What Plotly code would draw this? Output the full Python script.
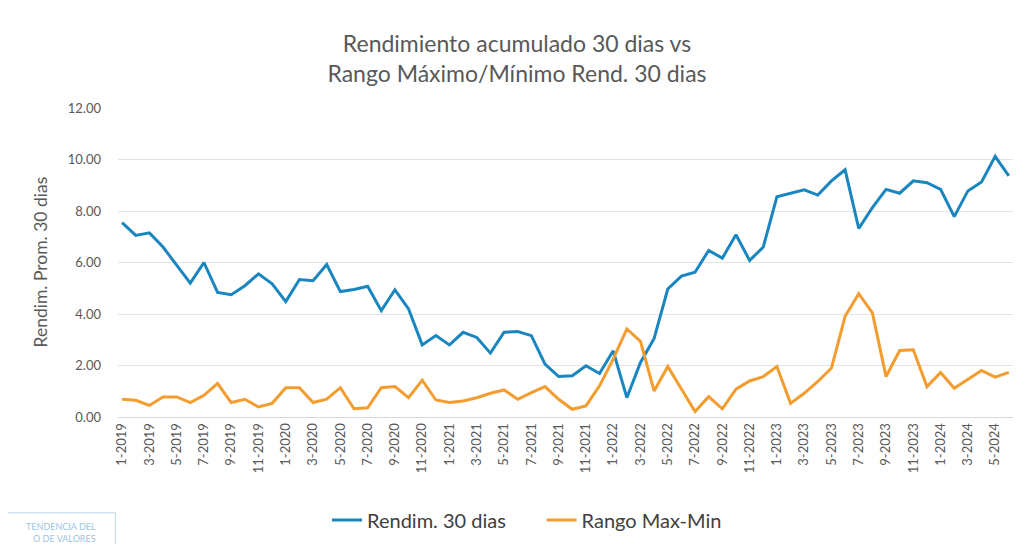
import plotly.graph_objects as go

# meses enero 2019 - junio 2024
years = [2019, 2020, 2021, 2022, 2023, 2024]
months = [f"{m}-{y}" for y in years for m in range(1, 13)][:66]

rendim_30 = [
    7.55, 7.05, 7.15, 6.60, 5.90, 5.20, 6.00, 4.84, 4.75, 5.10, 5.56, 5.17,
    4.48, 5.34, 5.29, 5.92, 4.87, 4.95, 5.08, 4.13, 4.94, 4.20, 2.80, 3.16,
    2.80, 3.29, 3.09, 2.48, 3.29, 3.32, 3.16, 2.05, 1.57, 1.60, 1.99, 1.69,
    2.57, 0.75, 2.12, 3.05, 4.97, 5.47, 5.62, 6.47, 6.17, 7.08, 6.08, 6.60,
    8.55, 8.70, 8.82, 8.62, 9.17, 9.60, 7.32, 8.13, 8.84, 8.69, 9.17, 9.10,
    8.84, 7.78, 8.78, 9.13, 10.12, 9.36,
]
rango_max_min = [
    0.69, 0.65, 0.45, 0.78, 0.78, 0.56, 0.84, 1.30, 0.56, 0.69, 0.39, 0.53,
    1.14, 1.14, 0.56, 0.69, 1.14, 0.32, 0.36, 1.14, 1.18, 0.75, 1.43, 0.66,
    0.56, 0.62, 0.75, 0.92, 1.05, 0.69, 0.95, 1.18, 0.69, 0.30, 0.43, 1.21,
    2.25, 3.42, 2.94, 1.01, 1.96, 1.08, 0.21, 0.79, 0.32, 1.08, 1.40, 1.57,
    1.96, 0.53, 0.92, 1.38, 1.90, 3.91, 4.79, 4.04, 1.57, 2.58, 2.61, 1.18,
    1.73, 1.12, 1.47, 1.81, 1.55, 1.73,
]

tick_labels = months[::2]

BLUE = "#1a86c0"
ORANGE = "#f39c2f"
GREY_TXT = "#595959"
FONT = "Lato, 'Open Sans', sans-serif"
GAP = "\u00a0" * 6  # separación entre elementos de la leyenda

fig = go.Figure()
fig.add_trace(go.Scatter(x=months, y=rendim_30, mode="lines", name="Rendim. 30 dias" + GAP,
                         line=dict(color=BLUE, width=3)))
fig.add_trace(go.Scatter(x=months, y=rango_max_min, mode="lines", name="Rango Max-Min",
                         line=dict(color=ORANGE, width=3)))

fig.update_layout(
    width=1021,
    height=544,
    paper_bgcolor="white",
    plot_bgcolor="white",
    font=dict(family=FONT, color=GREY_TXT),
    margin=dict(l=110, r=12, t=100, b=135),
    title=dict(
        text="Rendimiento acumulado 30 dias vs<br>Rango Máximo/Mínimo Rend. 30 dias",
        x=(517 - 8) / 1021, xanchor="center", xref="container",
        y=1 - 44 / 544, yanchor="middle", yref="container",
        font=dict(size=23, color=GREY_TXT, family=FONT),
    ),
    showlegend=True,
    legend=dict(
        orientation="h", x=0.455, xanchor="center", y=-0.333, yanchor="middle",
        font=dict(size=20, color="#404040", family=FONT),
        bgcolor="rgba(0,0,0,0)", itemwidth=30,
    ),
)

fig.update_xaxes(
    type="category",
    range=[-0.3, 65.6],
    tickmode="array",
    tickvals=tick_labels,
    ticktext=tick_labels,
    tickangle=-90,
    tickfont=dict(size=13, color=GREY_TXT),
    showgrid=False,
    showline=True, linecolor="#d9d9d9", linewidth=1,
    ticks="",
)
fig.update_yaxes(
    range=[0, 12],
    dtick=2,
    tickformat=".2f",
    tickfont=dict(size=13, color=GREY_TXT),
    gridcolor="#e3e3e3",
    zeroline=False,
    showline=False,
    ticks="",
    ticklabelstandoff=16,
)

fig.add_annotation(
    text="Rendim. Prom. 30 dias", textangle=-90,
    xref="paper", yref="paper", x=(32 - 110) / 899, y=0.5,
    xanchor="center", yanchor="middle", showarrow=False,
    font=dict(size=17.5, color=GREY_TXT, family=FONT),
)

# sello parcialmente visible abajo a la izquierda
fig.add_shape(type="rect", xref="paper", yref="paper",
              x0=-0.14, x1=-0.003, y0=-0.45, y1=-0.31,
              line=dict(color="#b9d9ec", width=1), fillcolor="rgba(0,0,0,0)")
fig.add_annotation(
    text="TENDENCIA DEL<br>O DE VALORES",
    xref="paper", yref="paper", x=(90 - 110) / 899, y=-0.375,
    xanchor="right", yanchor="middle", showarrow=False, align="right",
    font=dict(size=9, color="#9cc5df", family=FONT),
)

fig.write_html("out.html")
